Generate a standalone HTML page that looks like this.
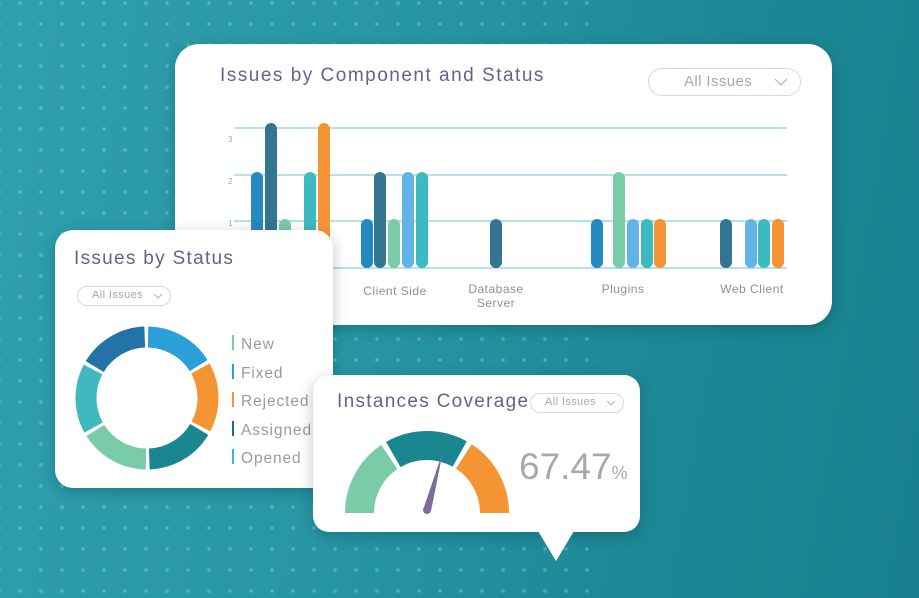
<!DOCTYPE html>
<html><head><meta charset="utf-8"><style>
*{margin:0;padding:0;box-sizing:border-box}
body{width:919px;height:598px;overflow:hidden;position:relative;font-family:"Liberation Sans",sans-serif;
background:linear-gradient(100deg,#2fa0ae 0%,#2796a5 40%,#1d8996 70%,#18808e 100%)}
.dots{position:absolute;left:0;top:0;width:600px;height:598px;
background-image:radial-gradient(circle,rgba(255,255,255,0.22) 1.6px,transparent 2.2px);
background-size:21px 21px;background-position:9.5px -7.5px}
.card{position:absolute;background:#fff;box-shadow:0 4px 14px rgba(0,40,50,0.28)}
.t{position:absolute;color:#6b5f8c;font-size:19px;white-space:nowrap;letter-spacing:1.3px}
.dd{position:absolute;border:1.5px solid #ddd5ea;border-radius:14px;color:#a9a4b6;white-space:nowrap;letter-spacing:0.4px}
.dd svg{position:absolute}
.lab{position:absolute;color:#8e8e98;font-size:12px;text-align:center;line-height:14px;letter-spacing:0.5px}
</style></head><body>
<div class="dots"></div>

<div class="card" style="left:175px;top:44px;width:657px;height:281px;border-radius:24px">
<div class="t" style="left:45px;top:21px;letter-spacing:1.5px">Issues by Component and Status</div>
<div class="dd" style="left:473px;top:24px;width:153px;height:28px;font-size:15px;padding:4px 0 0 35px">All Issues<svg style="right:12px;top:9px" width="14" height="8"><polyline points="1,1 7,7 13,1" fill="none" stroke="#b5b0c2" stroke-width="1.2"/></svg></div>
</div>
<svg style="position:absolute;left:0;top:0" width="919" height="598">
<g stroke="#7fd3da" stroke-width="1.3">
<line x1="234" y1="128" x2="787" y2="128"/><line x1="234" y1="175" x2="787" y2="175"/>
<line x1="234" y1="221" x2="787" y2="221"/><line x1="234" y1="268" x2="787" y2="268"/></g>
<g font-size="8" fill="#aaa" font-family="Liberation Sans"><text x="228" y="142">3</text><text x="228" y="184">2</text><text x="228" y="226">1</text></g>
<g>
<rect x="251" y="172" width="12" height="96" rx="6" fill="#2589bf"/>
<rect x="265" y="123" width="12" height="145" rx="6" fill="#347591"/>
<rect x="279" y="219" width="12" height="49" rx="6" fill="#7acba8"/>
<rect x="304" y="172" width="12" height="96" rx="6" fill="#3dbac0"/>
<rect x="318" y="123" width="12" height="145" rx="6" fill="#f59433"/>
<rect x="361" y="219" width="12" height="49" rx="6" fill="#2589bf"/>
<rect x="374" y="172" width="12" height="96" rx="6" fill="#347591"/>
<rect x="388" y="219" width="12" height="49" rx="6" fill="#7acba8"/>
<rect x="402" y="172" width="12" height="96" rx="6" fill="#62b3e8"/>
<rect x="416" y="172" width="12" height="96" rx="6" fill="#3dbac0"/>
<rect x="490" y="219" width="12" height="49" rx="6" fill="#347591"/>
<rect x="591" y="219" width="12" height="49" rx="6" fill="#2589bf"/>
<rect x="613" y="172" width="12" height="96" rx="6" fill="#7acba8"/>
<rect x="627" y="219" width="12" height="49" rx="6" fill="#62b3e8"/>
<rect x="641" y="219" width="12" height="49" rx="6" fill="#3dbac0"/>
<rect x="654" y="219" width="12" height="49" rx="6" fill="#f59433"/>
<rect x="720" y="219" width="12" height="49" rx="6" fill="#347591"/>
<rect x="745" y="219" width="12" height="49" rx="6" fill="#62b3e8"/>
<rect x="758" y="219" width="12" height="49" rx="6" fill="#3dbac0"/>
<rect x="772" y="219" width="12" height="49" rx="6" fill="#f59433"/>
</g></svg>
<div class="lab" style="left:355px;top:284px;width:80px">Client Side</div>
<div class="lab" style="left:456px;top:282px;width:80px">Database<br>Server</div>
<div class="lab" style="left:583px;top:282px;width:80px">Plugins</div>
<div class="lab" style="left:712px;top:282px;width:80px">Web Client</div>

<div class="card" style="left:55px;top:230px;width:278px;height:258px;border-radius:18px">
<div class="t" style="left:19px;top:18px">Issues by Status</div>
<div class="dd" style="left:22px;top:56px;width:94px;height:20px;font-size:11px;padding:2px 0 0 14px;border-radius:10px">All Issues<svg style="right:7px;top:6px" width="10" height="6"><polyline points="1,1 5,5 9,1" fill="none" stroke="#b5b0c2" stroke-width="1"/></svg></div>
<div style="position:absolute;left:177px;top:101px;font-size:15.5px;color:#9a9aa3;line-height:28.5px;letter-spacing:0.9px;white-space:nowrap">
<div><span style="display:inline-block;width:2px;height:15px;background:#7acba8;margin-right:7px;vertical-align:-1px"></span>New</div>
<div><span style="display:inline-block;width:2px;height:15px;background:#2a9fd8;margin-right:7px;vertical-align:-1px"></span>Fixed</div>
<div><span style="display:inline-block;width:2px;height:15px;background:#f59433;margin-right:7px;vertical-align:-1px"></span>Rejected</div>
<div><span style="display:inline-block;width:2px;height:15px;background:#1a7088;margin-right:7px;vertical-align:-1px"></span>Assigned</div>
<div><span style="display:inline-block;width:2px;height:15px;background:#3fb8c0;margin-right:7px;vertical-align:-1px"></span>Opened</div>
</div>
</div>
<svg style="position:absolute;left:0;top:0" width="919" height="598">
<g fill="none" stroke-width="21" transform="translate(147 398)">
<circle r="61" stroke="#2a9fd8" stroke-dasharray="60.5 400" transform="rotate(-89)"/>
<circle r="61" stroke="#f59433" stroke-dasharray="60.5 400" transform="rotate(-29)"/>
<circle r="61" stroke="#1a8690" stroke-dasharray="60.5 400" transform="rotate(31)"/>
<circle r="61" stroke="#7acba8" stroke-dasharray="60.5 400" transform="rotate(91)"/>
<circle r="61" stroke="#3fb8c0" stroke-dasharray="60.5 400" transform="rotate(151)"/>
<circle r="61" stroke="#2373a8" stroke-dasharray="60.5 400" transform="rotate(211)"/>
</g></svg>

<div class="card" style="left:313px;top:375px;width:327px;height:157px;border-radius:16px"></div>
<svg style="position:absolute;left:0;top:0" width="919" height="598">
<polygon points="538,531 574,531 556,561" fill="#fff"/>
<g fill="none" stroke-width="29">
<path d="M359.5 513 A67.5 67.5 0 0 1 389.3 457" stroke="#7acba8"/>
<path d="M393.3 454.5 A67.5 67.5 0 0 1 459.7 454" stroke="#1a8690"/>
<path d="M463.8 456.4 A67.5 67.5 0 0 1 494.5 513" stroke="#f59433"/>
</g>
<polygon points="423,510 431,511 443,451" fill="#7a6e96"/>
<circle cx="427" cy="510" r="4" fill="#7a6e96"/>
</svg>
<div class="t" style="left:337px;top:391px">Instances Coverage</div>
<div class="dd" style="left:530px;top:393px;width:94px;height:20px;font-size:11px;padding:2px 0 0 14px;border-radius:10px;background:#fff">All Issues<svg style="right:7px;top:6px" width="10" height="6"><polyline points="1,1 5,5 9,1" fill="none" stroke="#b5b0c2" stroke-width="1"/></svg></div>
<div style="position:absolute;left:519px;top:446px;font-size:37px;color:#a8a8b0;white-space:nowrap">67.47<span style="font-size:18px">%</span></div>
</body></html>
